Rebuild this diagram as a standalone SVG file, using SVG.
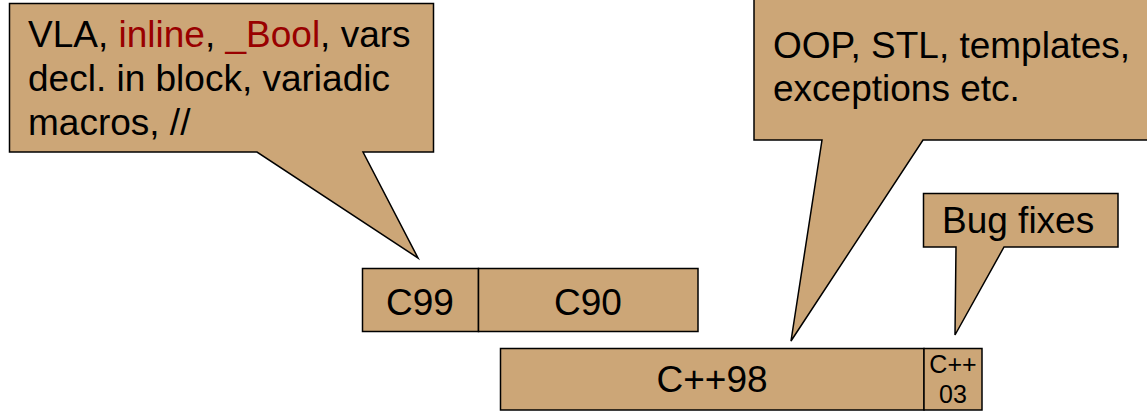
<svg xmlns="http://www.w3.org/2000/svg" width="1147" height="411" viewBox="0 0 1147 411">
<style>
.shape{fill:#CCA677;stroke:#000;stroke-width:1.5;stroke-linejoin:miter}
.t{font-family:"Liberation Sans",Arial,sans-serif;font-size:37px;fill:#000}
.c{text-anchor:middle}
.r{fill:#990000}
.s{font-size:25px}
</style>
<rect width="1147" height="411" fill="#fff"/>
<g id="callout-c99">
<path class="shape" d="M9.5,3.5 H433.5 V152 H363 L418,258 L257,152 H9.5 Z"/>
<text class="t" x="28" y="47">VLA, <tspan class="r">inline</tspan>, <tspan class="r">_Bool</tspan>, vars</text>
<text class="t" x="28" y="91">decl. in block, variadic</text>
<text class="t" x="28" y="135">macros, //</text>
</g>
<g id="callout-cpp98">
<path class="shape" d="M754,-5 H1152 V140 H923 L791,341 L822,140 H754 Z"/>
<text class="t" x="773" y="58">OOP, STL, templates,</text>
<text class="t" x="773" y="101">exceptions etc.</text>
</g>
<g id="callout-cpp03">
<path class="shape" d="M923.5,193.5 H1118 V247 H1004 L955,335 L956,247 H923.5 Z"/>
<text class="t" x="942" y="233">Bug fixes</text>
</g>
<g id="c99">
<rect class="shape" x="362.5" y="268.5" width="116" height="63"/>
<text class="t c" x="420" y="315">C99</text>
</g>
<g id="c90">
<rect class="shape" x="478.5" y="268.5" width="219.5" height="63"/>
<text class="t c" x="588" y="315">C90</text>
</g>
<g id="cpp98">
<rect class="shape" x="500.5" y="348.5" width="423.5" height="61.5"/>
<text class="t c" x="712" y="392">C++98</text>
</g>
<g id="cpp03">
<rect class="shape" x="924" y="348.5" width="58" height="61.5"/>
<text class="t c s" x="953" y="373">C++</text>
<text class="t c s" x="953" y="403">03</text>
</g>
<g id="connectors"></g>
</svg>
